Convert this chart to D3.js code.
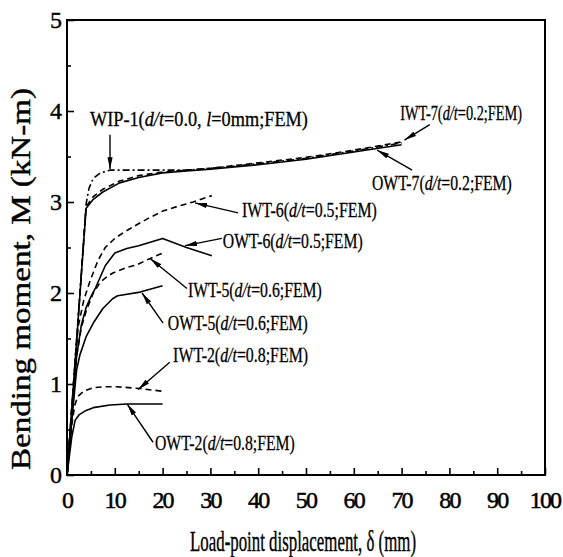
<!DOCTYPE html>
<html><head><meta charset="utf-8">
<script src="https://cdn.jsdelivr.net/npm/d3@7"></script>
<style>body{margin:0;background:#fff}svg{display:block}</style>
</head><body><svg id="c" width="563" height="557"></svg>
<script>
// ---- data ----
const xTickValues = [0,10,20,30,40,50,60,70,80,90,100];
const yTickValues = [0,1,2,3,4,5];
const xMinorTicks = [5,15,25,35,45,55,65,75,85,95];
const yMinorTicks = [0.5,1.5,2.5,3.5,4.5];

const wip1 = [[0,0],[1,0.74],[2,1.48],[3,2.22],[4,2.98],[4.6,3.15],[5.5,3.26],[7,3.32],[9,3.35],[15,3.35],[20,3.35],[25,3.35],[30,3.37],[40,3.42],[50,3.48],[60,3.56],[70,3.65]];
const owt7 = [[0,0],[1,0.73],[2,1.46],[3,2.2],[4,2.93],[5.5,3.03],[7.5,3.11],[11,3.21],[15,3.27],[20,3.32],[25,3.34],[30,3.36],[40,3.41],[50,3.47],[60,3.55],[70,3.63]];
const iwt7 = [[0,0],[1,0.74],[2,1.47],[3,2.21],[4,2.95],[5.5,3.06],[7.5,3.14],[11,3.23],[15,3.29],[20,3.33],[25,3.35],[30,3.37],[40,3.43],[50,3.49],[60,3.57],[70,3.66]];
const iwt6 = [[0,0],[1,0.7],[2.3,1.62],[3.5,1.92],[4.8,2.13],[6.5,2.36],[8,2.5],[10,2.6],[12,2.67],[14.6,2.75],[17,2.82],[20,2.9],[23,2.95],[26.4,3.0],[30.3,3.07]];
const owt6 = [[0,0],[1,0.65],[2,1.3],[3,1.65],[4,1.84],[5,1.96],[6,2.06],[8,2.3],[10,2.44],[12.5,2.49],[15,2.52],[20,2.6],[25,2.5],[30.3,2.41]];
const iwt5 = [[0,0],[1,0.65],[2,1.3],[3,1.62],[4,1.8],[5.5,2.0],[7,2.12],[8.4,2.18],[9.6,2.22],[12.5,2.28],[14.6,2.31],[17.4,2.38],[20.5,2.45]];
const owt5 = [[0,0],[1,0.6],[2,1.15],[2.7,1.32],[4,1.52],[5.5,1.67],[7.5,1.83],[9.6,1.94],[10.6,1.97],[15.3,2.01],[20,2.08]];
const iwt2 = [[0,0],[1,0.55],[1.6,0.76],[2.2,0.86],[3.5,0.92],[5.5,0.96],[8,0.97],[10.4,0.97],[15.3,0.95],[20,0.92]];
const owt2 = [[0,0],[1,0.42],[1.7,0.6],[2.5,0.66],[4,0.71],[5.5,0.74],[9,0.77],[12.5,0.78],[20,0.78]];

const seriesList = [
  {name:"OWT-2", data:owt2, kind:"solid"},
  {name:"IWT-2", data:iwt2, kind:"dash"},
  {name:"OWT-5", data:owt5, kind:"solid"},
  {name:"IWT-5", data:iwt5, kind:"dash"},
  {name:"OWT-6", data:owt6, kind:"solid"},
  {name:"IWT-6", data:iwt6, kind:"dash"},
  {name:"WIP-1", data:wip1, kind:"dashdot"},
  {name:"OWT-7", data:owt7, kind:"solid"},
  {name:"IWT-7", data:iwt7, kind:"dash"}
];

// annotation labels: text parts ([string, italic]), text anchor point and arrow (data units)
const annotations = [
  {parts:[["WIP-1(",0],["d/t",1],["=0.0, ",0],["l",1],["=0mm;FEM)",0]], tx:4.8, ty:3.84, w:218, a:[9.0,3.74,9.0,3.36]},
  {parts:[["IWT-7(",0],["d/t",1],["=0.2;FEM)",0]], tx:69.7, ty:3.90, w:122, a:[75.9,3.85,70.6,3.68]},
  {parts:[["OWT-7(",0],["d/t",1],["=0.2;FEM)",0]], tx:63.8, ty:3.13, w:140, a:[72.2,3.35,64.9,3.57]},
  {parts:[["IWT-6(",0],["d/t",1],["=0.5;FEM)",0]], tx:36.6, ty:2.84, w:135, a:[35.8,2.88,26.8,2.99]},
  {parts:[["OWT-6(",0],["d/t",1],["=0.5;FEM)",0]], tx:32.6, ty:2.49, w:140, a:[32.4,2.60,24.7,2.52]},
  {parts:[["IWT-5(",0],["d/t",1],["=0.6;FEM)",0]], tx:25.3, ty:1.96, w:134, a:[25.1,2.05,17.4,2.38]},
  {parts:[["OWT-5(",0],["d/t",1],["=0.6;FEM)",0]], tx:21.1, ty:1.59, w:140, a:[20.1,1.67,15.7,2.00]},
  {parts:[["IWT-2(",0],["d/t",1],["=0.8;FEM)",0]], tx:22.2, ty:1.24, w:135, a:[21.5,1.24,14.9,0.94]},
  {parts:[["OWT-2(",0],["d/t",1],["=0.8;FEM)",0]], tx:18.4, ty:0.27, w:140, a:[18.0,0.36,12.6,0.78]}
];

const xTitle = "Load-point displacement, \u03b4 (mm)";
const yTitle = "Bending moment, M (kN-m)";

// ---- drawing ----
const svg = d3.select("#c");
const font = "'Liberation Serif','Times New Roman',serif";
const L = 67, R = 545, T = 20, B = 475;
const x = d3.scaleLinear().domain([0,100]).range([L,R]);
const y = d3.scaleLinear().domain([0,5]).range([B,T]);

svg.append("rect").attr("width",563).attr("height",557).attr("fill","#fff");

const defs = svg.append("defs");
defs.append("marker").attr("id","ah").attr("markerUnits","userSpaceOnUse")
  .attr("viewBox","0 0 12 6").attr("refX",12).attr("refY",3)
  .attr("markerWidth",12).attr("markerHeight",6).attr("orient","auto")
  .append("path").attr("d","M0,0.4 L12,3 L0,5.6 Z").attr("fill","#000");

// ticks (inward)
const gx = svg.append("g").attr("transform",`translate(0,${B})`)
  .call(d3.axisBottom(x).tickValues(xTickValues).tickSize(-7).tickPadding(0).tickFormat(""));
const gxm = svg.append("g").attr("transform",`translate(0,${B})`)
  .call(d3.axisBottom(x).tickValues(xMinorTicks).tickSize(-4).tickFormat(""));
const gy = svg.append("g").attr("transform",`translate(${L},0)`)
  .call(d3.axisLeft(y).tickValues(yTickValues).tickSize(-7).tickFormat(""));
const gym = svg.append("g").attr("transform",`translate(${L},0)`)
  .call(d3.axisLeft(y).tickValues(yMinorTicks).tickSize(-4).tickFormat(""));
[gx,gxm,gy,gym].forEach(g=>{
  g.select(".domain").remove();
  g.selectAll(".tick line").attr("stroke","#000").attr("stroke-width",1.6);
});

// tick labels
svg.append("g").selectAll("text").data(xTickValues).join("text")
  .attr("x",d=>x(d)).attr("y",508).attr("text-anchor","middle")
  .attr("font-family",font).attr("font-size",24).attr("letter-spacing",-1.8)
  .attr("stroke","#000").attr("stroke-width",0.5)
  .text(d=>d);
svg.append("g").selectAll("text").data(yTickValues).join("text")
  .attr("x",62).attr("y",d=>y(d)).attr("dy","0.34em").attr("text-anchor","end")
  .attr("font-family",font).attr("font-size",24)
  .attr("stroke","#000").attr("stroke-width",0.4)
  .text(d=>d);

// frame
svg.append("rect").attr("x",L).attr("y",T).attr("width",R-L).attr("height",B-T)
  .attr("fill","none").attr("stroke","#000").attr("stroke-width",2);

// curves
const line = d3.line().x(d=>x(d[0])).y(d=>y(d[1])).curve(d3.curveLinear);
const dashes = {solid:null, dash:"6,4", dashdot:"7,3,2,3"};
svg.append("g").selectAll("path").data(seriesList).join("path")
  .attr("d",d=>line(d.data)).attr("fill","none").attr("stroke","#000")
  .attr("stroke-width",1.6).attr("stroke-linejoin","round")
  .attr("stroke-dasharray",d=>dashes[d.kind]);

// annotations
const ag = svg.append("g");
annotations.forEach(a=>{
  ag.append("line").attr("x1",x(a.a[0])).attr("y1",y(a.a[1]))
    .attr("x2",x(a.a[2])).attr("y2",y(a.a[3]))
    .attr("stroke","#000").attr("stroke-width",1.4).attr("marker-end","url(#ah)");
  const g = ag.append("g").attr("transform",`translate(${x(a.tx)},${y(a.ty)})`);
  const t = g.append("text").attr("font-family",font).attr("font-size",21)
    .attr("stroke","#000").attr("stroke-width",0.3);
  a.parts.forEach(p=>{
    t.append("tspan").attr("font-style",p[1]?"italic":"normal").text(p[0]);
  });
  const bw = t.node().getBBox().width;
  t.attr("transform",`scale(${a.w/bw},1)`);
});

// axis titles
function scaledText(px,py,str,size,w,rot){
  const g = svg.append("g").attr("transform",`translate(${px},${py}) rotate(${rot})`);
  const t = g.append("text").attr("text-anchor","middle").attr("font-family",font)
    .attr("font-size",size).attr("stroke","#000").attr("stroke-width",0.4).text(str);
  const bw = t.node().getBBox().width;
  t.attr("transform",`scale(${w/bw},1)`);
}
scaledText(303,551,xTitle,30,226,0);
scaledText(30,279,yTitle,28,382,-90);
</script></body></html>
